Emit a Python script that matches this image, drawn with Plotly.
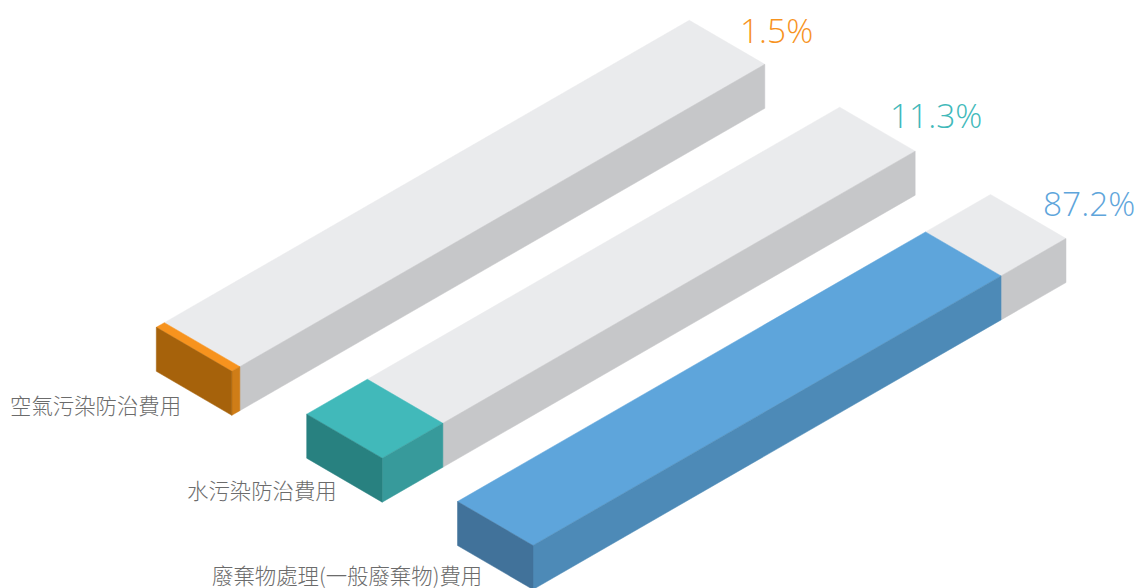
import plotly.graph_objects as go

categories = ["空氣污染防治費用", "水污染防治費用", "廢棄物處理(一般廢棄物)費用"]
values = [1.5, 11.3, 87.2]
value_labels = ["1.5%", "11.3%", "87.2%"]
top_colors = ["#F7931E", "#41B9BA", "#5EA5DB"]
left_colors = ["#A6620B", "#288180", "#41729A"]
right_colors = ["#CF7D17", "#379A9B", "#4D8AB7"]
TRACK_TOP = "#EAEBED"
TRACK_SIDE = "#C6C7C9"
TEXT_GREY = "#6B6B6B"
TOTAL = 99.3

# Isometric projection set-up (page pixels)
ORIGINS = [(231.8, 371.3), (382.2, 458.2), (533.0, 545.5)]
LEN_VEC = (533.0, -307.0)
WID_VEC = (-75.5, -44.0)
HEIGHT = 44.0
LABEL_POS = [(9, 404.5), (186, 489.5), (211, 574.5)]
VALUE_POS = [(739, 29.5), (889, 114.5), (1042, 202.5)]


def project(origin, along, across, down):
    t = along / TOTAL
    return (origin[0] + LEN_VEC[0] * t + WID_VEC[0] * across,
            origin[1] + LEN_VEC[1] * t + WID_VEC[1] * across + HEIGHT * down)


def poly(fig, pts, color):
    xs = [p[0] for p in pts] + [pts[0][0]]
    ys = [p[1] for p in pts] + [pts[0][1]]
    fig.add_trace(go.Scatter(x=xs, y=ys, mode="lines", fill="toself",
                             fillcolor=color, line=dict(color=color, width=0.5),
                             hoverinfo="skip", showlegend=False))


fig = go.Figure()
for i, v in enumerate(values):
    o = ORIGINS[i]
    # grey track: remaining part of the bar
    poly(fig, [project(o, v, 0, 0), project(o, TOTAL, 0, 0), project(o, TOTAL, 1, 0), project(o, v, 1, 0)], TRACK_TOP)
    poly(fig, [project(o, v, 0, 0), project(o, TOTAL, 0, 0), project(o, TOTAL, 0, 1), project(o, v, 0, 1)], TRACK_SIDE)
    # coloured value part
    poly(fig, [project(o, 0, 0, 0), project(o, v, 0, 0), project(o, v, 1, 0), project(o, 0, 1, 0)], top_colors[i])
    poly(fig, [project(o, 0, 0, 0), project(o, v, 0, 0), project(o, v, 0, 1), project(o, 0, 0, 1)], right_colors[i])
    poly(fig, [project(o, 0, 0, 0), project(o, 0, 1, 0), project(o, 0, 1, 1), project(o, 0, 0, 1)], left_colors[i])

    fig.add_annotation(x=LABEL_POS[i][0], y=LABEL_POS[i][1], text=categories[i], showarrow=False,
                       xanchor="left", yanchor="middle", borderpad=0,
                       font=dict(family="Noto Sans CJK TC", size=21.4, color=TEXT_GREY, weight=300))
    fig.add_annotation(x=VALUE_POS[i][0], y=VALUE_POS[i][1], text=value_labels[i], showarrow=False,
                       xanchor="left", yanchor="middle", borderpad=0,
                       font=dict(family="Open Sans", size=33.5, color=top_colors[i], weight=300))

fig.update_layout(
    width=1139, height=588, autosize=False,
    margin=dict(l=0, r=0, t=0, b=0),
    paper_bgcolor="white", plot_bgcolor="white",
    xaxis=dict(range=[0, 1139], visible=False, fixedrange=True),
    yaxis=dict(range=[588, 0], visible=False, fixedrange=True),
)
fig.write_html("out.html", config={"displayModeBar": False},
               post_script="document.body.style.margin='0';")
